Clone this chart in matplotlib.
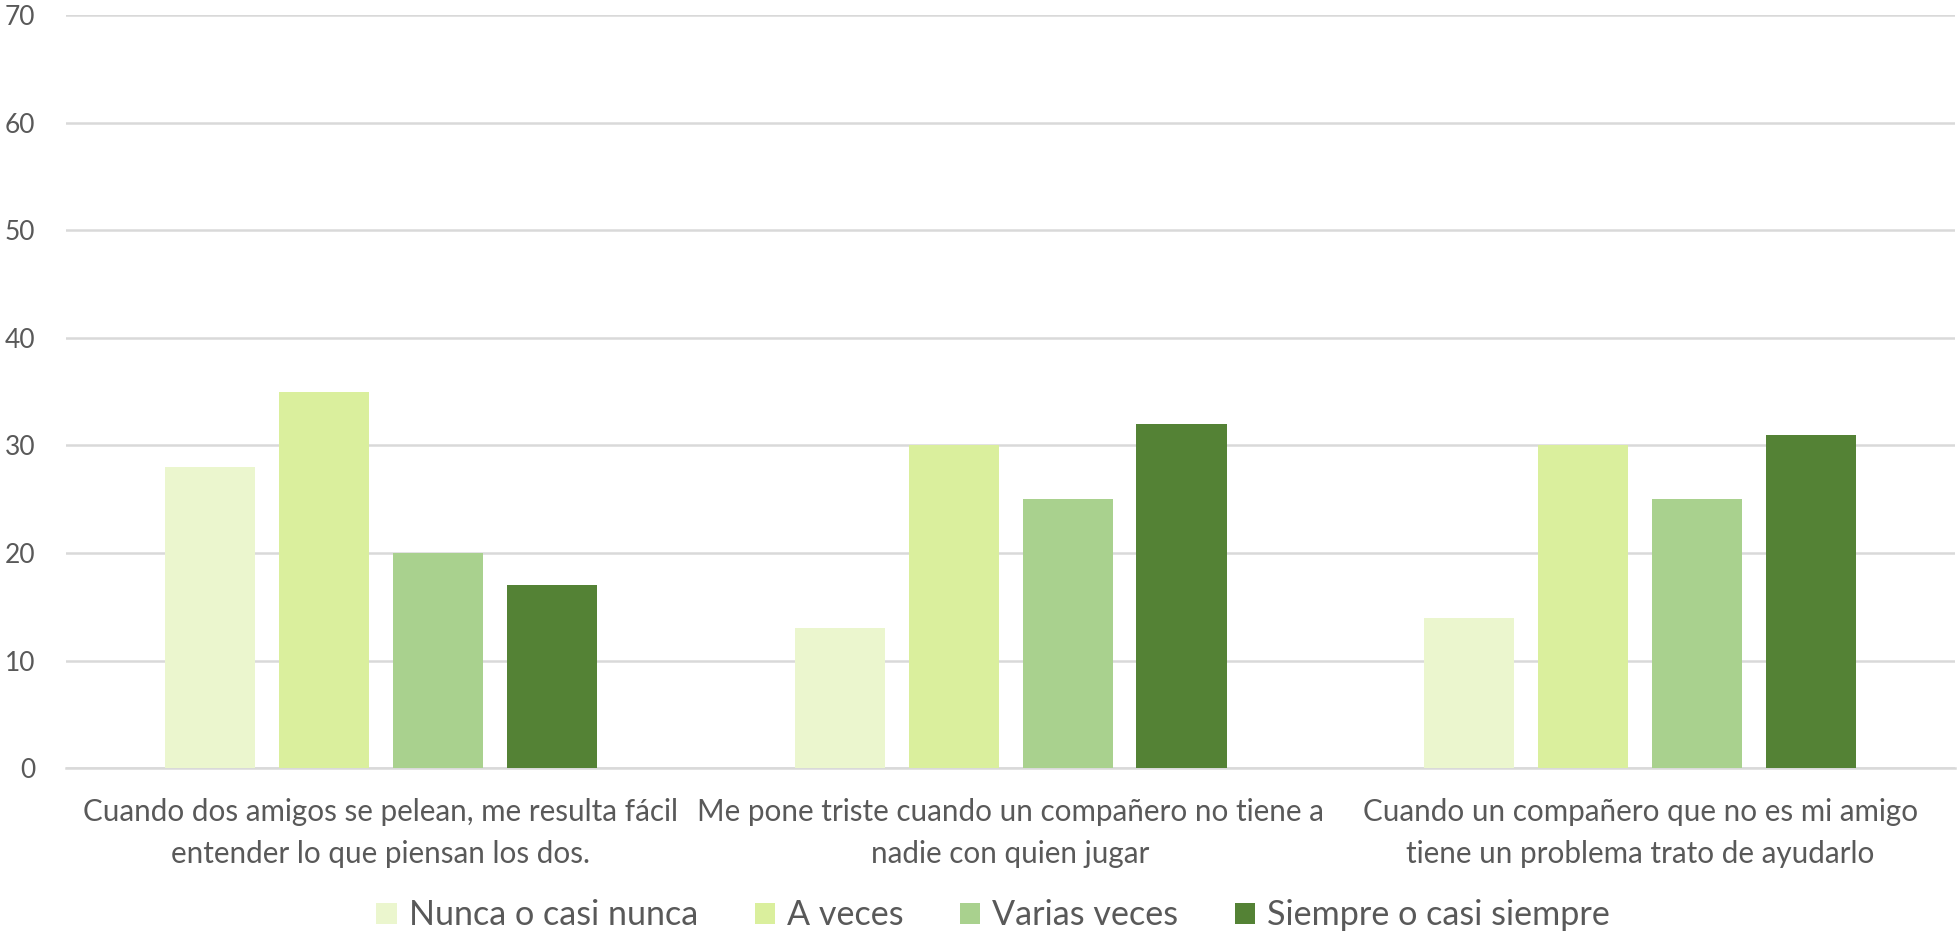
import numpy as np
import matplotlib
matplotlib.use('Agg')
import matplotlib.pyplot as plt

plt.rcParams['font.family'] = ['Lato', 'DejaVu Sans']

# Data
categories = ['Cuando dos amigos se pelean, me resulta fácil\nentender lo que piensan los dos.',
              'Me pone triste cuando un compañero no tiene a\nnadie con quien jugar',
              'Cuando un compañero que no es mi amigo\ntiene un problema trato de ayudarlo']
series_names = ['Nunca o casi nunca', 'A veces', 'Varias veces', 'Siempre o casi siempre']
nunca = [28, 13, 14]
a_veces = [35, 30, 30]
varias = [20, 25, 25]
siempre = [17, 32, 31]
colors = ['#EBF6CE', '#DAEF9D', '#A9D18E', '#548235']

fig = plt.figure(figsize=(19.59, 9.38), dpi=100)
ax = fig.add_axes([0.0337, 0.181, 0.9643, 0.803])

x = np.arange(len(categories))
step = 0.181
width = 0.143
for i, (vals, name) in enumerate(zip([nunca, a_veces, varias, siempre], series_names)):
    ax.bar(x + (i - 1.5) * step, vals, width, color=colors[i], label=name, zorder=3)

ax.set_xlim(-0.5, 2.5)
ax.set_ylim(0, 70)
ax.set_yticks(range(0, 71, 10))
ax.yaxis.grid(True, color='#D9D9D9', linewidth=1.8, zorder=0)
for s in ['top', 'right', 'left']:
    ax.spines[s].set_visible(False)
ax.spines['bottom'].set_color('#D9D9D9')
ax.spines['bottom'].set_linewidth(1.8)

ax.set_xticks(x)
ax.set_xticklabels(categories, fontsize=21.3, color='#595959', linespacing=1.62)
ax.tick_params(axis='x', length=0, pad=21.5)
ax.tick_params(axis='y', length=0, pad=22, labelsize=19, labelcolor='#595959')

ax.legend(loc='center', bbox_to_anchor=(0.507, 0.024), bbox_transform=fig.transFigure,
          ncol=4, frameon=False, fontsize=24.6, labelcolor='#595959',
          handlelength=0.59, handleheight=0.59, handletextpad=0.35, columnspacing=1.66)

fig.savefig('out.png', dpi=100)
